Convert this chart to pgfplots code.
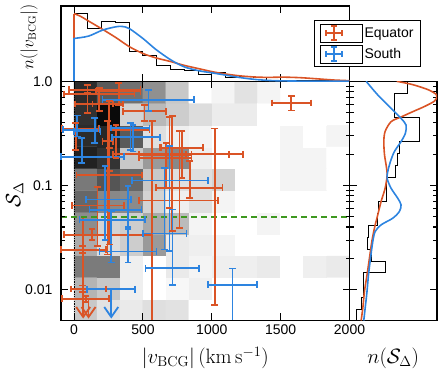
\documentclass[border=0pt]{standalone}
\usepackage[no-math]{fontspec}
\setmainfont{Liberation Sans}
\usepackage{pgfplots}
\pgfplotsset{compat=1.18}
\usepackage{pgfplotstable}
\usetikzlibrary{arrows.meta}
\definecolor{eqc}{RGB}{218,84,38}
\definecolor{soc}{RGB}{45,132,224}
\definecolor{grc}{RGB}{62,152,32}

\pgfplotstableread{
x y c
83.33 0.006376 0.78
250 0.006376 0.88
416.67 0.006376 0.91
583.33 0.006376 0.87
750 0.006376 0.88
916.67 0.006376 1
1083.33 0.006376 1
1250 0.006376 1
1416.67 0.006376 1
1583.33 0.006376 1
1750 0.006376 1
1916.67 0.006376 1
83.33 0.01032 0.70
250 0.01032 0.78
416.67 0.01032 0.93
583.33 0.01032 1
750 0.01032 0.96
916.67 0.01032 0.93
1083.33 0.01032 1
1250 0.01032 1
1416.67 0.01032 1
1583.33 0.01032 1
1750 0.01032 1
1916.67 0.01032 1
83.33 0.01670 0.48
250 0.01670 0.48
416.67 0.01670 0.93
583.33 0.01670 1
750 0.01670 0.91
916.67 0.01670 0.95
1083.33 0.01670 0.93
1250 0.01670 0.93
1416.67 0.01670 0.91
1583.33 0.01670 1
1750 0.01670 0.93
1916.67 0.01670 0.91
83.33 0.02703 0.67
250 0.02703 0.86
416.67 0.02703 0.80
583.33 0.02703 0.60
750 0.02703 0.91
916.67 0.02703 0.93
1083.33 0.02703 0.95
1250 0.02703 1
1416.67 0.02703 1
1583.33 0.02703 1
1750 0.02703 1
1916.67 0.02703 1
83.33 0.04374 0.55
250 0.04374 0.82
416.67 0.04374 0.80
583.33 0.04374 0.66
750 0.04374 0.73
916.67 0.04374 0.95
1083.33 0.04374 1
1250 0.04374 1
1416.67 0.04374 0.95
1583.33 0.04374 1
1750 0.04374 1
1916.67 0.04374 1
83.33 0.07079 0.40
250 0.07079 0.53
416.67 0.07079 0.54
583.33 0.07079 0.82
750 0.07079 0.93
916.67 0.07079 0.87
1083.33 0.07079 0.95
1250 0.07079 1
1416.67 0.07079 1
1583.33 0.07079 1
1750 0.07079 1
1916.67 0.07079 1
83.33 0.1146 0.47
250 0.1146 0.33
416.67 0.1146 0.40
583.33 0.1146 0.78
750 0.1146 0.87
916.67 0.1146 0.87
1083.33 0.1146 0.82
1250 0.1146 1
1416.67 0.1146 1
1583.33 0.1146 0.95
1750 0.1146 0.95
1916.67 0.1146 1
83.33 0.1854 0.13
250 0.1854 0.20
416.67 0.1854 0.78
583.33 0.1854 0.60
750 0.1854 0.53
916.67 0.1854 0.93
1083.33 0.1854 1
1250 0.1854 1
1416.67 0.1854 1
1583.33 0.1854 0.95
1750 0.1854 0.95
1916.67 0.1854 1
83.33 0.3002 0.17
250 0.3002 0.15
416.67 0.3002 0.35
583.33 0.3002 0.87
750 0.3002 0.93
916.67 0.3002 0.95
1083.33 0.3002 1
1250 0.3002 1
1416.67 0.3002 1
1583.33 0.3002 0.95
1750 0.3002 1
1916.67 0.3002 0.95
83.33 0.4858 0.19
250 0.4858 0.04
416.67 0.4858 0.82
583.33 0.4858 0.72
750 0.4858 0.80
916.67 0.4858 0.86
1083.33 0.4858 0.92
1250 0.4858 0.92
1416.67 0.4858 1
1583.33 0.4858 1
1750 0.4858 1
1916.67 0.4858 1
83.33 0.7862 0.17
250 0.7862 0.35
416.67 0.7862 0.44
583.33 0.7862 0.56
750 0.7862 0.78
916.67 0.7862 1
1083.33 0.7862 0.95
1250 0.7862 0.88
1416.67 0.7862 0.95
1583.33 0.7862 1
1750 0.7862 1
1916.67 0.7862 1
}\histdata

\pgfplotsset{
  myax/.style={
    scale only axis,
    axis line style={line width=1.5pt},
    tick align=inside,
    major tick length=7pt, minor tick length=4pt,
    tick style={black, line width=1.1pt},
    tick label style={font=\fontsize{14}{16}\selectfont},
    label style={font=\fontsize{20}{24}\selectfont},
  },
  hbar/.style={#1, line width=1.8pt, mark=|, mark size=3.4pt, mark options={solid,#1}, unbounded coords=jump},
  vbar/.style={#1, line width=1.8pt, mark=-, mark size=3.4pt, mark options={solid,#1}, unbounded coords=jump},
}

\begin{document}
\begin{tikzpicture}
% ---------------- main panel ----------------
\begin{axis}[myax, name=main, at={(61pt,48.7pt)}, anchor=south west,
  width=288.5pt, height=239pt,
  xmin=-95, xmax=2000, ymode=log, ymin=0.0051, ymax=1,
  xtick={0,500,1000,1500,2000}, xticklabels={0,500,1000,1500,2000},
  ytick={0.01,0.1,1}, yticklabels={0.01,0.1,1.0},
  yticklabel style={xshift=-5pt},
  xticklabel style={yshift=-1pt},
  xlabel={$|v_{\mathrm{BCG}}|\,(\mathrm{km\,s^{-1}})$},
  ylabel={$\mathcal{S}_\Delta$},
  xlabel style={at={(axis description cs:0.5,-0.1816)}, anchor=base},
  ylabel style={at={(axis description cs:-0.160,0.524)}, anchor=center},
  axis on top,
  colormap={bw}{gray(0cm)=(0); gray(1cm)=(1)},
  point meta min=0, point meta max=1,
]
\addplot[matrix plot*, mesh/cols=12, mesh/rows=11, point meta=explicit] table[x=x,y=y,meta=c] {\histdata};
\addplot[black, densely dotted, line width=0.7pt] coordinates {(0,0.0051) (0,1)};
\addplot[grc, line width=1.4pt, dash pattern=on 6pt off 4pt] coordinates {(-95,0.05) (2000,0.05)};
% Equator: horizontal (x) error bars
\addplot[hbar=eqc] coordinates {
(1435,0.620) (1720,0.620) (0,nan)
(-36,0.832) (482,0.832) (0,nan)
(158,0.802) (482,0.802) (0,nan)
(-73,0.756) (438,0.756) (0,nan)
(5,0.607) (280,0.607) (0,nan)
(134,0.607) (353,0.607) (0,nan)
(358,0.516) (669,0.516) (0,nan)
(-85,0.352) (182,0.352) (0,nan)
(255,0.344) (547,0.344) (0,nan)
(207,0.266) (280,0.266) (0,nan)
(474,0.198) (852,0.198) (0,nan)
(633,0.230) (937,0.230) (0,nan)
(474,0.184) (852,0.184) (0,nan)
(815,0.200) (1229,0.200) (0,nan)
(280,0.200) (1126,0.200) (0,nan)
(620,0.230) (937,0.230) (0,nan)
(17,0.126) (494,0.126) (0,nan)
(596,0.0950) (1078,0.0950) (0,nan)
(474,0.0718) (1046,0.0718) (0,nan)
(-17,0.0643) (360,0.0643) (0,nan)
(-71,0.0337) (562,0.0337) (0,nan)
(-24,0.0102) (231,0.0102) (0,nan)
(-85,0.0082) (255,0.0082) (0,nan)
(-95,0.0242) (231,0.0242)};
% Equator: vertical (S) error bars
\addplot[vbar=eqc] coordinates {
(1577,0.524) (1577,0.718) (0,nan)
(97,0.497) (97,0.929) (0,nan)
(324,0.597) (324,0.964) (0,nan)
(182,0.516) (182,0.863) (0,nan)
(97,0.497) (97,0.773) (0,nan)
(255,0.137) (255,0.643) (0,nan)
(511,0.414) (511,0.597) (0,nan)
(12,0.221) (12,0.399) (0,nan)
(304,0.184) (304,0.384) (0,nan)
(243,0.0218) (243,0.414) (0,nan)
(567,0.004) (567,0.414) (0,nan)
(713,0.0365) (713,0.462) (0,nan)
(693,0.0611) (693,0.452) (0,nan)
(1022,0.0071) (1022,0.352) (0,nan)
(669,0.0950) (669,0.256) (0,nan)
(783,0.118) (783,0.332) (0,nan)
(255,0.0272) (255,0.230) (0,nan)
(839,0.0762) (839,0.171) (0,nan)
(766,0.0393) (766,0.332) (0,nan)
(170,0.0262) (170,0.0964) (0,nan)
(130,0.0300) (130,0.0380) (0,nan)
(61,0.0095) (61,0.0110) (0,nan)
(85,0.0076) (85,0.0088) (0,nan)
(61,0.0225) (61,0.0262)};
\addplot[eqc, line width=1.8pt, -{Straight Barb[length=10pt,width=14pt]}] coordinates {(66,0.0486) (66,0.0053)};
\addplot[eqc, line width=1.8pt, -{Straight Barb[length=10pt,width=14pt]}] coordinates {(105,0.0082) (105,0.0053)};
% South: horizontal error bars
\addplot[hbar=soc] coordinates {
(207,0.667) (871,0.667) (0,nan)
(2,0.332) (192,0.332) (0,nan)
(-83,0.342) (185,0.342) (0,nan)
(268,0.357) (547,0.357) (0,nan)
(277,0.290) (623,0.290) (0,nan)
(-95,0.189) (363,0.189) (0,nan)
(421,0.112) (973,0.112) (0,nan)
(85,0.0734) (414,0.0734) (0,nan)
(112,0.0585) (489,0.0585) (0,nan)
(39,0.0469) (513,0.0469) (0,nan)
(501,0.0347) (817,0.0347) (0,nan)
(185,0.0233) (598,0.0233) (0,nan)
(518,0.0161) (910,0.0161) (0,nan)
(973,0.0112) (1326,0.0112) (0,nan)
(95,0.0101) (440,0.0101)};
% South: vertical error bars
\addplot[vbar=soc] coordinates {
(540,0.516) (540,0.820) (0,nan)
(151,0.256) (151,0.445) (0,nan)
(22,0.295) (22,0.469) (0,nan)
(409,0.221) (409,0.399) (0,nan)
(428,0.212) (428,0.381) (0,nan)
(56,0.166) (56,0.284) (0,nan)
(657,0.0244) (657,0.148) (0,nan)
(224,0.0303) (224,0.153) (0,nan)
(392,0.0380) (392,0.0986) (0,nan)
(270,0.0183) (270,0.0568) (0,nan)
(693,0.0235) (693,0.240) (0,nan)
(392,0.0183) (392,0.0400) (0,nan)
(715,0.0112) (715,0.0589) (0,nan)
(1151,0.004) (1151,0.0160)};
\addplot[soc, line width=1.8pt, -{Straight Barb[length=10pt,width=14pt]}] coordinates {(270,0.0101) (270,0.0053)};
\end{axis}

% ---------------- top panel ----------------
\begin{axis}[myax, at={(61pt,287.7pt)}, anchor=south west,
  width=288.5pt, height=75.3pt,
  xmin=-95, xmax=2000, ymin=0, ymax=1,
  xtick={0,500,1000,1500,2000}, xticklabels={}, ytick=\empty,
  ylabel={$n(|v_{\mathrm{BCG}}|)$},
  ylabel style={font=\fontsize{16}{19}\selectfont, at={(axis description cs:-0.1109,0.588)}, anchor=center},
  legend style={at={(0.878,0.81)}, anchor=north west, draw=black, line width=0.8pt,
    font=\fontsize{14}{16}\selectfont, inner xsep=5pt, inner ysep=3pt, row sep=2pt,
    nodes={inner sep=2pt}},
  legend cell align=left,
]
\addlegendimage{legend image code/.code={
  \path (-6pt,-9pt) rectangle (36pt,9pt);
  \draw[eqc, line width=1.8pt] (8pt,-7pt)--(8pt,7pt) (0pt,0pt)--(16pt,0pt)
    (5pt,7pt)--(11pt,7pt) (5pt,-7pt)--(11pt,-7pt)
    (0pt,-3pt)--(0pt,3pt) (16pt,-3pt)--(16pt,3pt);}}
\addlegendentry{Equator}
\addlegendimage{legend image code/.code={
  \path (-6pt,-9pt) rectangle (36pt,9pt);
  \draw[soc, line width=1.8pt] (8pt,-7pt)--(8pt,7pt) (0pt,0pt)--(16pt,0pt)
    (5pt,7pt)--(11pt,7pt) (5pt,-7pt)--(11pt,-7pt)
    (0pt,-3pt)--(0pt,3pt) (16pt,-3pt)--(16pt,3pt);}}
\addlegendentry{South}
\addplot[forget plot, const plot, black, line width=1pt] coordinates {
(0,0) (0,0.902) (100,0.702) (200,0.80) (300,0.778) (400,0.40) (500,0.347)
(600,0.213) (700,0.16) (800,0.138) (900,0.093) (1000,0.111) (1100,0.049)
(1200,0.058) (1300,0.044) (1400,0.013) (1500,0.013) (1600,0.013) (1700,0.006)
(1800,0.006) (1900,0.006) (2000,0.006)};
\addplot[forget plot, eqc, line width=1.6pt] coordinates {(0,0) (0,0.90)};
\addplot[forget plot, eqc, line width=1.6pt, smooth] coordinates {
(0,0.90) (50,0.86) (105,0.80) (207,0.69) (304,0.58) (401,0.46) (499,0.37) (596,0.31)
(706,0.26) (803,0.21) (912,0.165) (1010,0.125) (1107,0.095) (1205,0.072) (1302,0.058)
(1399,0.052) (1521,0.055) (1643,0.048) (1764,0.033) (1886,0.017) (2000,0.008)};
\addplot[forget plot, soc, line width=1.6pt] coordinates {(0,0) (0,0.569)};
\addplot[forget plot, soc, line width=1.6pt, smooth] coordinates {
(0,0.569) (105,0.60) (207,0.68) (304,0.724) (350,0.728) (401,0.70) (499,0.57) (596,0.42)
(706,0.28) (803,0.19) (912,0.138) (1010,0.11) (1107,0.08) (1205,0.05) (1302,0.027)
(1399,0.013) (1500,0.006) (1700,0.002) (2000,0.0)};
\end{axis}

% ---------------- right panel ----------------
\begin{axis}[myax, at={(349.5pt,48.7pt)}, anchor=south west,
  width=87.5pt, height=239pt,
  xmin=0, xmax=1, ymode=log, ymin=0.0051, ymax=1,
  xtick=\empty, ytick={0.01,0.1,1}, yticklabels={},
  xlabel={$n(\mathcal{S}_\Delta)$},
  xlabel style={at={(axis description cs:0.5,-0.1816)}, anchor=base},
]
\addplot[black, line width=1pt] coordinates {
(0.658,1.0) (0.658,0.7674) (0.513,0.7674) (0.513,0.4519) (0.80,0.4519) (0.80,0.2661)
(0.57,0.2661) (0.57,0.2042) (0.55,0.2042) (0.55,0.1567) (0.52,0.1567) (0.52,0.1202)
(0.418,0.1202) (0.418,0.0708) (0.334,0.0708) (0.334,0.0543) (0.315,0.0543) (0.315,0.0417)
(0.217,0.0417) (0.217,0.0320) (0.20,0.0320) (0.20,0.0245) (0.255,0.0245) (0.255,0.0188)
(0.407,0.0188) (0.407,0.0145) (0.163,0.0145) (0.163,0.00851) (0.14,0.00851) (0.14,0.00653)
(0.076,0.00653) (0.076,0.00501)};
\addplot[eqc, line width=1.6pt, smooth] coordinates {
(0.54,1.0) (0.72,0.93) (0.90,0.83) (0.99,0.75) (1.0,0.71) (0.97,0.645) (0.86,0.575)
(0.72,0.51) (0.59,0.455) (0.475,0.41) (0.407,0.33) (0.392,0.264) (0.40,0.197) (0.418,0.158)
(0.43,0.126) (0.407,0.0942) (0.361,0.0703) (0.323,0.0524) (0.285,0.039) (0.255,0.029)
(0.228,0.0201) (0.20,0.0139) (0.171,0.00964) (0.152,0.00667) (0.133,0.00508)};
\addplot[soc, line width=1.6pt, smooth] coordinates {
(0.19,1.0) (0.323,0.74) (0.475,0.551) (0.589,0.441) (0.646,0.381) (0.639,0.318) (0.589,0.264)
(0.513,0.212) (0.468,0.170) (0.437,0.136) (0.43,0.117) (0.475,0.0942) (0.551,0.0757)
(0.589,0.0653) (0.57,0.0564) (0.494,0.0486) (0.361,0.042) (0.293,0.0362) (0.266,0.029)
(0.24,0.0201) (0.217,0.0139) (0.2,0.00964) (0.179,0.00667) (0.163,0.00508)};
\end{axis}
\pgfresetboundingbox
\path[use as bounding box] (0,0) rectangle (443pt,369pt);
\end{tikzpicture}
\end{document}
